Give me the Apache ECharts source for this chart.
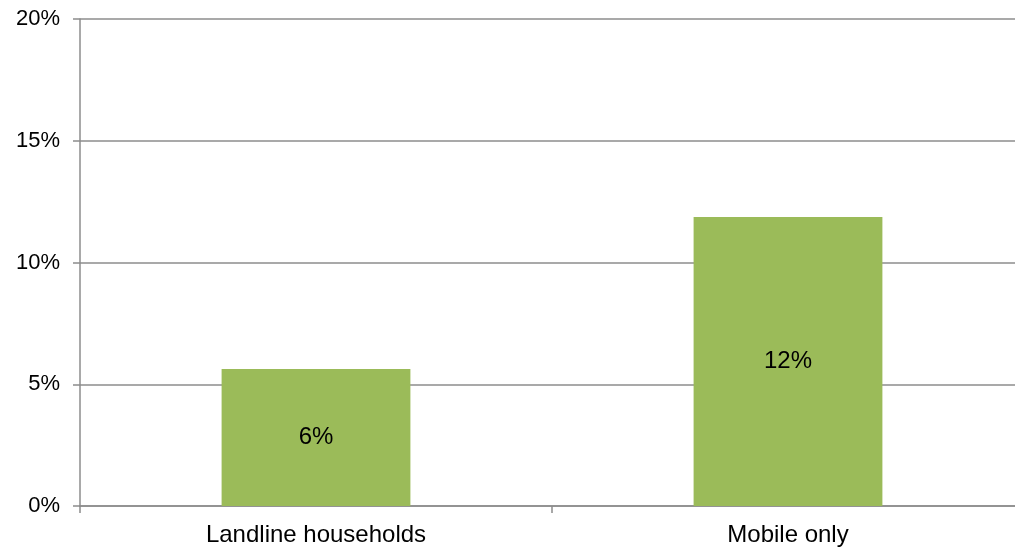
<!DOCTYPE html>
<html>
<head>
<meta charset="utf-8">
<script src="https://cdn.jsdelivr.net/npm/echarts@6/dist/echarts.min.js"></script>
<style>
  html, body { margin: 0; padding: 0; background: #fff; }
  #chart { width: 1015px; height: 550px; }
</style>
</head>
<body>
<div id="chart"></div>
<script>
  // data
  var categories = ['Landline households', 'Mobile only'];
  var shares = [5.63, 11.87];
  var yTicks = [0, 5, 10, 15, 20];

  var chart = echarts.init(document.getElementById('chart'));
  var font = '"Liberation Sans", Arial, sans-serif';

  chart.setOption({
    animation: false,
    grid: { left: 80, top: 19, right: -9, bottom: 44, containLabel: false, outerBoundsMode: 'none' },
    xAxis: {
      type: 'category',
      data: categories,
      axisLine: { lineStyle: { color: '#8c8c8c', width: 1.5 } },
      axisTick: { show: true, length: 7, lineStyle: { color: '#8c8c8c', width: 1.5 } },
      axisLabel: { color: '#000', fontFamily: font, fontSize: 24, margin: 17 }
    },
    yAxis: {
      type: 'value',
      min: yTicks[0],
      max: yTicks[yTicks.length - 1],
      interval: 5,
      axisLine: { show: true, lineStyle: { color: '#8c8c8c', width: 1.5 } },
      axisTick: { show: true, length: 7, lineStyle: { color: '#8c8c8c', width: 1.5 } },
      splitLine: { lineStyle: { color: '#8c8c8c', width: 1.5 } },
      axisLabel: {
        color: '#000', fontFamily: font, fontSize: 22, margin: 20,
        formatter: function (v) { return v + '%'; }
      }
    },
    series: [{
      type: 'bar',
      data: shares,
      barWidth: '40%',
      itemStyle: { color: '#9BBB59' },
      label: {
        show: true,
        position: 'inside',
        color: '#000',
        fontFamily: font,
        fontSize: 24,
        formatter: function (p) { return Math.round(p.value) + '%'; }
      }
    }]
  });
</script>
</body>
</html>
